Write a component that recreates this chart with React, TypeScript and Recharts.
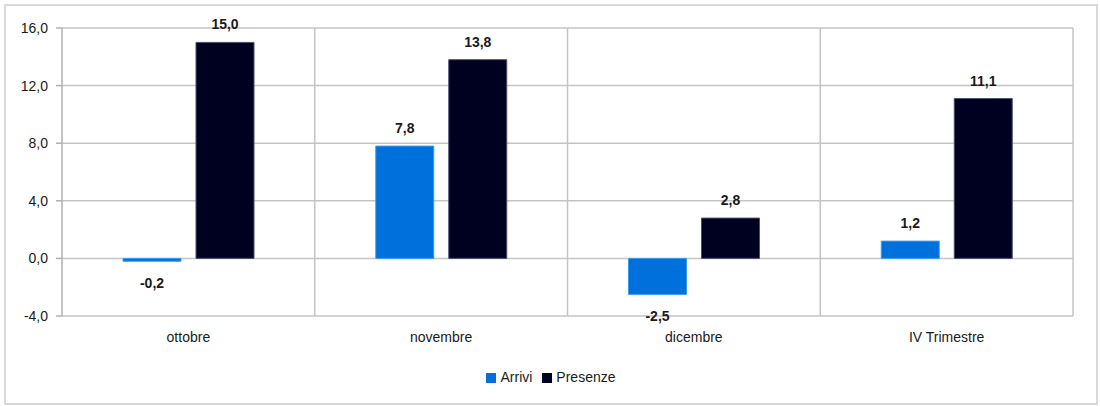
import { BarChart, Bar, XAxis, YAxis, CartesianGrid, Legend, LabelList } from "recharts";

const categories = ["ottobre", "novembre", "dicembre", "IV Trimestre"];
const arrivi = [-0.2, 7.8, -2.5, 1.2];
const presenze = [15.0, 13.8, 2.8, 11.1];
const yTicks = [-4, 0, 4, 8, 12, 16];

const data = categories.map((name, i) => ({
  name,
  arrivi: arrivi[i],
  presenze: presenze[i],
}));

const fmt = (v: number) => v.toFixed(1).replace(".", ",");

const FONT = "'Liberation Sans', Arial, sans-serif";
const GRID = "#c4c4c4";

const ValueLabel = (props: any) => {
  const { x, y, width, height, value } = props;
  const top = Math.min(y, y + height);
  const bottom = Math.max(y, y + height);
  const cx = x + width / 2;
  const ty = value < 0 ? bottom + 27 : top - 13;
  return (
    <text
      x={cx}
      y={ty}
      textAnchor="middle"
      fontFamily={FONT}
      fontSize={14}
      fontWeight={700}
      fill="#1a1a1a"
    >
      {fmt(value)}
    </text>
  );
};

export default function App() {
  return (
    <div style={{ position: "absolute", left: 0, top: 0, width: 1100, height: 406, background: "#fff" }}>
      <div
        style={{
          position: "absolute",
          left: 4,
          top: 4,
          width: 1094,
          height: 401,
          border: "2px solid #d9d9d9",
          boxSizing: "border-box",
        }}
      />
      <div style={{ position: "absolute", left: 0, top: 0 }}>
        <BarChart
          width={1100}
          height={406}
          data={data}
          margin={{ top: 28, right: 27, left: 0, bottom: 60 }}
          barCategoryGap={61}
          barGap={15}
        >
          <CartesianGrid
            stroke={GRID}
            strokeWidth={1.5}
            verticalCoordinatesGenerator={({ offset }: any) =>
              categories.map((_, i) => offset.left + ((i + 1) * offset.width) / categories.length)
            }
          />
          <XAxis
            dataKey="name"
            axisLine={false}
            tickLine={false}
            height={30}
            tickMargin={10}
            tick={{ fill: "#1a1a1a", fontSize: 14, fontFamily: FONT }}
          />
          <YAxis
            width={62}
            domain={[-4, 16]}
            ticks={yTicks}
            interval={0}
            tickFormatter={fmt}
            stroke="#b0b0b0"
            strokeWidth={1.5}
            tickSize={6}
            tickMargin={8}
            tick={{ fill: "#1a1a1a", fontSize: 14, fontFamily: FONT }}
          />
          <Legend
            layout="horizontal"
            verticalAlign="middle"
            align="center"
            iconType="square"
            iconSize={10}
            wrapperStyle={{ top: 369, left: 0, width: 1112, fontFamily: FONT, fontSize: 14 }}
            formatter={(value: string) => <span style={{ color: "#1a1a1a" }}>{value}</span>}
          />
          <Bar dataKey="arrivi" name="Arrivi" fill="#0070dd" stroke="#3a9cf0" strokeWidth={1} isAnimationActive={false}>
            <LabelList dataKey="arrivi" content={<ValueLabel />} />
          </Bar>
          <Bar dataKey="presenze" name="Presenze" fill="#000020" stroke="#4a5070" strokeWidth={1} isAnimationActive={false}>
            <LabelList dataKey="presenze" content={<ValueLabel />} />
          </Bar>
        </BarChart>
      </div>
    </div>
  );
}
